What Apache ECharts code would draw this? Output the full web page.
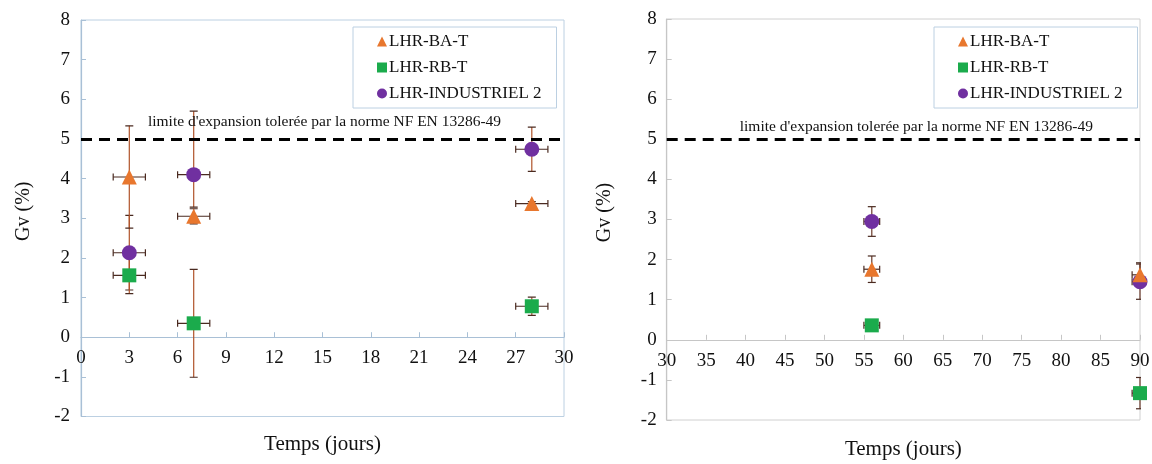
<!DOCTYPE html>
<html>
<head>
<meta charset="utf-8">
<script src="https://cdn.jsdelivr.net/npm/echarts@6/dist/echarts.min.js"></script>
<style>
html,body{margin:0;padding:0;background:#fff;}
#chart{width:1152px;height:464px;}
</style>
</head>
<body>
<div id="chart"></div>
<script>
// ---- data ----
const seriesNames = ['LHR-BA-T', 'LHR-RB-T', 'LHR-INDUSTRIEL 2'];
const xAxisTitle = 'Temps (jours)';
const yAxisTitle = 'Gv (%)';
const limitValue = 5;
const limitText = "limite d'expansion tolerée par la norme NF EN 13286-49";

// left panel (0-30 days)
const daysLeft = [3, 7, 28];
const dayErrLeft = [1, 1, 1];
const baLeft = [4.04, 3.05, 3.37];
const baLeftErrLow = [1.29, 0.19, 0.05];
const baLeftErrHigh = [1.29, 0.19, 0.05];
const rbLeft = [1.56, 0.35, 0.78];
const rbLeftErrLow = [0.46, 1.36, 0.23];
const rbLeftErrHigh = [0.46, 1.36, 0.23];
const indLeft = [2.13, 4.10, 4.74];
const indLeftErrLow = [0.94, 0.82, 0.56];
const indLeftErrHigh = [0.94, 1.60, 0.56];

// right panel (30-90 days)
const daysRight = [56, 90];
const dayErrRight = [1, 1];
const baRight = [1.76, 1.62];
const baRightErrLow = [0.33, 0.30];
const baRightErrHigh = [0.33, 0.30];
const rbRight = [0.36, -1.33];
const rbRightErrLow = [0.12, 0.39];
const rbRightErrHigh = [0.12, 0.39];
const indRight = [2.95, 1.45];
const indRightErrLow = [0.37, 0.44];
const indRightErrHigh = [0.37, 0.44];

// axis ranges
const xLeftMin = 0, xLeftMax = 30, xLeftStep = 3;
const xRightMin = 30, xRightMax = 90, xRightStep = 5;
const yMin = -2, yMax = 8, yStep = 1;

// ---- styles ----
const colors = ['#e8772e', '#1bab4c', '#7030a0'];
const symbols = ['triangle', 'rect', 'circle'];
const symbolSizes = [15, 14, 15];
const FONT = 'Liberation Serif';

function pts(xs, ys) { return xs.map((x, i) => [x, ys[i]]); }
function errPts(xs, ys, exs, lo, hi) { return xs.map((x, i) => [x, ys[i], exs[i], lo[i], hi[i]]); }

function errRender(vColor, hColor, capV, capH) {
  return function (params, api) {
    const x = api.value(0), y = api.value(1), ex = api.value(2), lo = api.value(3), hi = api.value(4);
    const t = api.coord([x, y + hi]);
    const b = api.coord([x, y - lo]);
    const l = api.coord([x - ex, y]);
    const r = api.coord([x + ex, y]);
    const st = (c) => ({ stroke: c, lineWidth: 1.2 });
    return {
      type: 'group',
      children: [
        { type: 'line', shape: { x1: t[0], y1: t[1], x2: b[0], y2: b[1] }, style: st(vColor) },
        { type: 'line', shape: { x1: t[0] - capV, y1: t[1], x2: t[0] + capV, y2: t[1] }, style: st(hColor) },
        { type: 'line', shape: { x1: b[0] - capV, y1: b[1], x2: b[0] + capV, y2: b[1] }, style: st(hColor) },
        { type: 'line', shape: { x1: l[0], y1: l[1], x2: r[0], y2: r[1] }, style: st(hColor) },
        { type: 'line', shape: { x1: l[0], y1: l[1] - capH, x2: l[0], y2: l[1] + capH }, style: st(hColor) },
        { type: 'line', shape: { x1: r[0], y1: r[1] - capH, x2: r[0], y2: r[1] + capH }, style: st(hColor) }
      ]
    };
  };
}

const panels = [
  { days: daysLeft, dErr: dayErrLeft, vals: [baLeft, rbLeft, indLeft],
    lo: [baLeftErrLow, rbLeftErrLow, indLeftErrLow], hi: [baLeftErrHigh, rbLeftErrHigh, indLeftErrHigh] },
  { days: daysRight, dErr: dayErrRight, vals: [baRight, rbRight, indRight],
    lo: [baRightErrLow, rbRightErrLow, indRightErrLow], hi: [baRightErrHigh, rbRightErrHigh, indRightErrHigh] }
];

const series = [];
panels.forEach((p, gi) => {
  [2, 1, 0].forEach((si) => {
    series.push({
      type: 'custom',
      xAxisIndex: gi, yAxisIndex: gi,
      clip: true,
      z: 2,
      silent: true,
      renderItem: errRender(gi === 0 ? '#b0532a' : '#6a3a2a', '#4a2a20', 4, 3.5),
      data: errPts(p.days, p.vals[si], p.dErr, p.lo[si], p.hi[si])
    });
  });
  [2, 1, 0].forEach((si) => {
    series.push({
      type: 'scatter',
      name: seriesNames[si],
      xAxisIndex: gi, yAxisIndex: gi,
      symbol: symbols[si],
      symbolSize: symbolSizes[si],
      itemStyle: { color: colors[si], opacity: 1 },
      z: 3 + (2 - si),
      data: pts(p.days, p.vals[si])
    });
  });
  series.push({
    type: 'line',
    xAxisIndex: gi, yAxisIndex: gi,
    data: [],
    markLine: {
      silent: true,
      symbol: ['none', 'none'],
      lineStyle: { color: '#000', type: [11, 7], width: 3 },
      label: {
        show: true,
        formatter: limitText,
        position: 'insideMiddleTop',
        distance: gi === 0 ? 9 : 4,
        offset: gi === 0 ? [2, 0] : [13, 0],
        color: '#111',
        fontFamily: FONT,
        fontSize: 15.5
      },
      data: [{ yAxis: limitValue }]
    }
  });
});

const gridLefts = [81, 666.7];
const gridWidths = [483, 473.3];
const gridTops = [20, 19];
const gridHeights = [396.5, 401];
const gridBorder = ['#bcd0e2', '#d0d0d0'];
const axisColor = ['#a9c0d6', '#c6c6c6'];

function xAxisFor(gi, min, max, step) {
  // place the axis on the zero line: move it up by the height of the negative part
  const zeroOffset = -gridHeights[gi] * (0 - yMin) / (yMax - yMin);
  return {
    type: 'value', gridIndex: gi, min: min, max: max, interval: step,
    position: 'bottom', offset: zeroOffset,
    axisLine: { show: true, onZero: false, lineStyle: { color: axisColor[gi], width: 1.2 } },
    axisTick: { show: true, inside: true, length: 5, lineStyle: { color: axisColor[gi] } },
    splitLine: { show: false },
    axisLabel: { color: '#111', fontFamily: FONT, fontSize: 19, margin: gi === 0 ? 11 : 12 },
    name: xAxisTitle, nameLocation: 'middle', nameGap: gi === 0 ? 97 : 99,
    nameTextStyle: { color: '#111', fontFamily: FONT, fontSize: 21 }
  };
}
function yAxisFor(gi) {
  return {
    type: 'value', gridIndex: gi, min: yMin, max: yMax, interval: yStep,
    axisLine: { show: true, onZero: false, lineStyle: { color: axisColor[gi], width: 1.2 } },
    axisTick: { show: true, inside: true, length: 5, lineStyle: { color: axisColor[gi] } },
    splitLine: { show: false },
    axisLabel: { color: '#111', fontFamily: FONT, fontSize: 19, margin: gi === 0 ? 11 : 10 },
    name: yAxisTitle, nameLocation: 'middle', nameGap: gi === 0 ? 47 : 52,
    nameTextStyle: { color: '#111', fontFamily: FONT, fontSize: 20, padding: [0, 0, 0, 14] }
  };
}

function legendFor(left) {
  return {
    show: true,
    orient: 'vertical',
    left: left, top: 27,
    data: seriesNames.map((n, i) => ({ name: n, icon: symbols[i] })),
    itemWidth: 10, itemHeight: 10, itemGap: 9,
    padding: [6, 15, 6, 24],
    borderColor: gridBorder[0], borderWidth: 1,
    backgroundColor: '#fff',
    selectedMode: false,
    textStyle: { color: '#111', fontFamily: FONT, fontSize: 17, padding: [0, 0, 0, -3] }
  };
}

const option = {
  backgroundColor: '#fff',
  animation: false,
  grid: [0, 1].map((gi) => ({
    left: gridLefts[gi], top: gridTops[gi], width: gridWidths[gi], height: gridHeights[gi],
    show: true, borderColor: gridBorder[gi], borderWidth: 1, backgroundColor: 'transparent',
    containLabel: false, outerBoundsMode: 'none'
  })),
  xAxis: [xAxisFor(0, xLeftMin, xLeftMax, xLeftStep), xAxisFor(1, xRightMin, xRightMax, xRightStep)],
  yAxis: [yAxisFor(0), yAxisFor(1)],
  legend: [legendFor(353), legendFor(934)],
  series: series
};

const chart = echarts.init(document.getElementById('chart'), null, { renderer: 'canvas' });
chart.setOption(option);
</script>
</body>
</html>
